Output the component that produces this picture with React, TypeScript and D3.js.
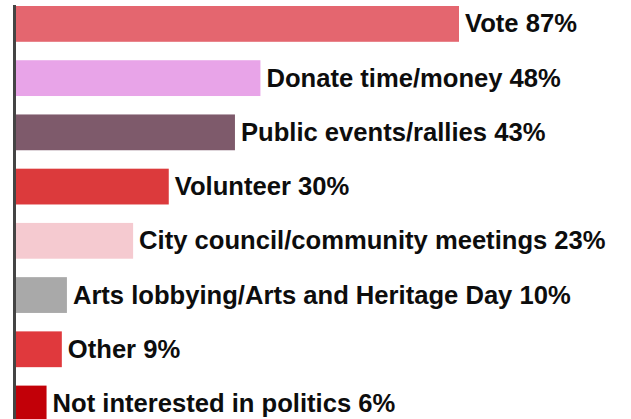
import React from "react";
import * as d3 from "d3";

const categories = [
  "Vote",
  "Donate time/money",
  "Public events/rallies",
  "Volunteer",
  "City council/community meetings",
  "Arts lobbying/Arts and Heritage Day",
  "Other",
  "Not interested in politics",
];
const values = [87, 48, 43, 30, 23, 10, 9, 6];
const colors = ["#e4666f", "#e8a4e8", "#7e5a6b", "#dc3a3c", "#f5cad0", "#a9a9a9", "#e0393d", "#c20008"];

const W = 631;
const H = 419;

export default function App() {
  const x = d3.scaleLinear().domain([0, 87]).range([16, 459]);
  const y = d3
    .scaleBand<string>()
    .domain(categories)
    .range([6, 421.4])
    .paddingInner(0.34)
    .paddingOuter(0);
  return (
    <svg
      width={W}
      height={H}
      style={{ position: "fixed", left: 0, top: 0, background: "#fff" }}
    >
      {categories.map((c, i) => {
        const yy = y(c)!;
        const bh = y.bandwidth();
        return (
          <g key={c}>
            <rect x={x(0)} y={yy} width={x(values[i]) - x(0)} height={bh} fill={colors[i]} />
            <text
              x={x(values[i]) + 6}
              y={yy + bh / 2 + 8.5}
              fontFamily="'Liberation Sans', Arial, sans-serif"
              fontWeight="bold"
              fontSize={25.6}
              fill="#0d0d0d"
            >
              {`${c} ${values[i]}%`}
            </text>
          </g>
        );
      })}
      <line x1={14.5} x2={14.5} y1={5} y2={H} stroke="#444" strokeWidth={3} />
    </svg>
  );
}
